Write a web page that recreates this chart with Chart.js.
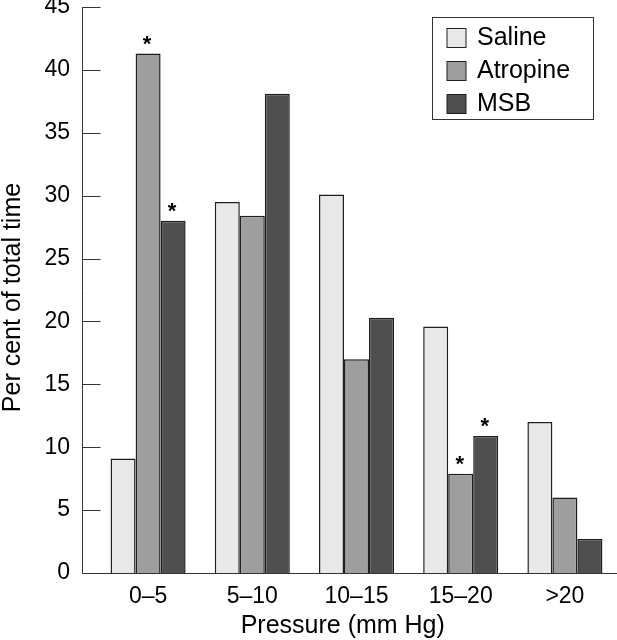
<!DOCTYPE html>
<html>
<head>
<meta charset="utf-8">
<script src="https://cdn.jsdelivr.net/npm/chart.js@4/dist/chart.umd.min.js"></script>
<style>
  html, body { margin: 0; padding: 0; background: #ffffff; }
  #wrap { width: 617px; height: 640px; position: relative; }
</style>
</head>
<body>
<div id="wrap"><canvas id="c" width="617" height="640"></canvas></div>
<script>
// ---- Data ----
const categories = ['0\u20135', '5\u201310', '10\u201315', '15\u201320', '>20'];
const seriesNames = ['Saline', 'Atropine', 'MSB'];
const saline   = [9.1, 29.5, 30.1, 19.6, 12.0];
const atropine = [41.3, 28.4, 17.0, 7.9, 6.0];
const msb      = [28.0, 38.1, 20.3, 10.9, 2.7];
// significance markers (asterisks) per series
const salineSig   = [false, false, false, false, false];
const atropineSig = [true, false, false, true, false];
const msbSig      = [true, false, false, true, false];
const yMin = 0, yMax = 45, yStep = 5;
const xTitle = 'Pressure (mm Hg)';
const yTitle = 'Per cent of total time';

const FONT = '"Liberation Sans", Arial, Helvetica, sans-serif';
const INK = '#1e1e1e';
const fills = ['#e8e8e8', '#9e9e9e', '#4f4f4f'];
const sigs = [salineSig, atropineSig, msbSig];

const decorPlugin = {
  id: 'decor',
  afterDraw(chart) {
    const ctx = chart.ctx;
    const ca = chart.chartArea;
    const ys = chart.scales.y;
    const axisX = ca.left - 13.5;
    ctx.save();
    // axes
    ctx.strokeStyle = '#333333';
    ctx.lineWidth = 1;
    ctx.beginPath();
    ctx.moveTo(axisX, ys.getPixelForValue(yMax));
    ctx.lineTo(axisX, ys.getPixelForValue(yMin) + 0.5);
    ctx.moveTo(axisX, Math.round(ys.getPixelForValue(yMin)) + 0.5);
    ctx.lineTo(ca.right, Math.round(ys.getPixelForValue(yMin)) + 0.5);
    ys.ticks.forEach(t => {
      const y = Math.round(ys.getPixelForValue(t.value)) + 0.5;
      ctx.moveTo(axisX, y);
      ctx.lineTo(axisX + 18, y);
    });
    ctx.stroke();

    // asterisks
    ctx.fillStyle = '#000000';
    ctx.font = 'bold 22px ' + FONT;
    ctx.textAlign = 'center';
    ctx.textBaseline = 'alphabetic';
    chart.data.datasets.forEach((ds, i) => {
      const meta = chart.getDatasetMeta(i);
      meta.data.forEach((bar, j) => {
        if (sigs[i][j]) {
          ctx.fillText('*', bar.x - 1, bar.y - 3);
        }
      });
    });

    // legend
    const lx = ca.right - 184.5, ly = 17.5, lw = 161, lh = 102;
    ctx.strokeStyle = '#333333';
    ctx.lineWidth = 1;
    ctx.strokeRect(lx, ly, lw, lh);
    ctx.font = '25px ' + FONT;
    ctx.textAlign = 'left';
    ctx.textBaseline = 'middle';
    chart.data.datasets.forEach((ds, i) => {
      const sy = 28 + 33 * i;
      ctx.fillStyle = ds.backgroundColor;
      ctx.fillRect(lx + 14.5, sy, 19, 19);
      ctx.strokeStyle = INK;
      ctx.strokeRect(lx + 14.5, sy + 0.5, 19, 19);
      ctx.fillStyle = '#000000';
      ctx.fillText(ds.label, lx + 44.5, sy + 10.5);
    });

    // axis titles
    ctx.fillStyle = '#000000';
    ctx.font = '25px ' + FONT;
    ctx.textAlign = 'center';
    ctx.textBaseline = 'alphabetic';
    ctx.fillText(xTitle, (axisX + ca.right - 14) / 2, 633);
    ctx.save();
    ctx.translate(20, (ca.top + ca.bottom) / 2 + 7.5);
    ctx.rotate(-Math.PI / 2);
    ctx.fillText(yTitle, 0, 0);
    ctx.restore();
    ctx.restore();
  }
};

const values = [saline, atropine, msb];
new Chart(document.getElementById('c'), {
  type: 'bar',
  data: {
    labels: categories,
    datasets: seriesNames.map((name, i) => ({
      label: name,
      data: values[i],
      backgroundColor: fills[i],
      borderColor: INK,
      borderWidth: 1.5,
      categoryPercentage: 0.72,
      barPercentage: 1.0
    }))
  },
  options: {
    responsive: false,
    animation: false,
    devicePixelRatio: 1,
    layout: { padding: { top: 7, right: 0, bottom: 0, left: 0 } },
    plugins: {
      legend: { display: false },
      tooltip: { enabled: false }
    },
    scales: {
      x: {
        grid: { display: false, drawTicks: false },
        border: { display: false },
        ticks: { color: '#000000', font: { family: FONT, size: 23 }, padding: 10, maxRotation: 0, autoSkip: false },
        afterFit(s) { s.height = 67; s.paddingLeft = 0; s.paddingRight = 0; }
      },
      y: {
        min: yMin, max: yMax,
        grid: { display: false, drawTicks: false },
        border: { display: false },
        ticks: { stepSize: yStep, color: '#000000', font: { family: FONT, size: 23 }, padding: 26 },
        afterFit(s) { s.width = 96; s.paddingTop = 0; s.paddingBottom = 0; }
      }
    }
  },
  plugins: [decorPlugin]
});
</script>
</body>
</html>
